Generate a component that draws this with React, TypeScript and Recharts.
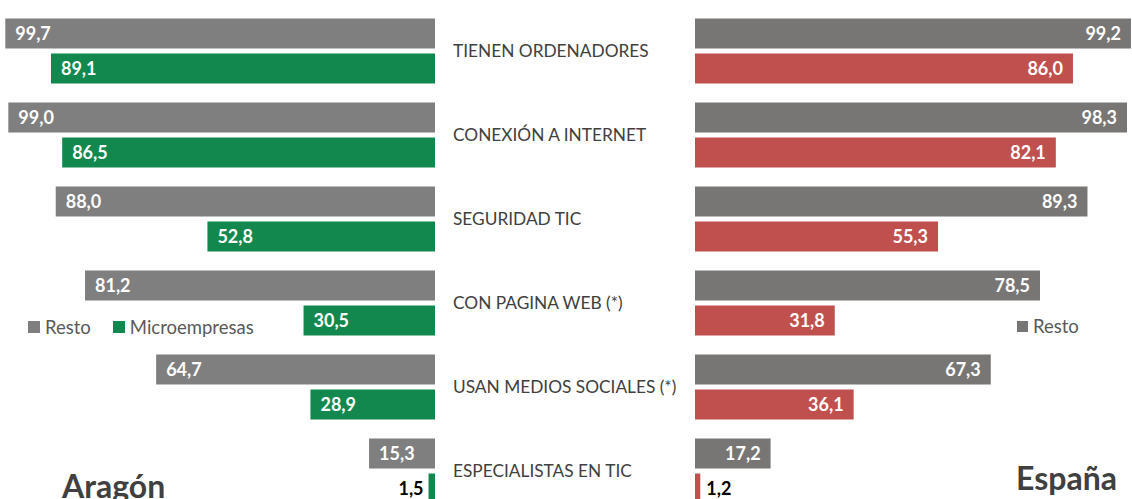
import React from 'react';
import { BarChart, Bar, XAxis, YAxis, LabelList, Legend } from 'recharts';

const categories = [
  'TIENEN ORDENADORES',
  'CONEXIÓN A INTERNET',
  'SEGURIDAD TIC',
  'CON PAGINA WEB (*)',
  'USAN MEDIOS SOCIALES (*)',
  'ESPECIALISTAS EN TIC',
];
const aragonResto = [99.7, 99.0, 88.0, 81.2, 64.7, 15.3];
const aragonMicro = [89.1, 86.5, 52.8, 30.5, 28.9, 1.5];
const espanaResto = [99.2, 98.3, 89.3, 78.5, 67.3, 17.2];
const espanaMicro = [86.0, 82.1, 55.3, 31.8, 36.1, 1.2];
const seriesNames = ['Resto', 'Microempresas'];
const titles = ['Aragón', 'España'];

const data = categories.map((cat, i) => ({
  cat,
  aRest: aragonResto[i],
  aMicro: aragonMicro[i],
  eRest: espanaResto[i],
  eMicro: espanaMicro[i],
}));

const FONT = 'Lato, "Open Sans", sans-serif';
const fmt = (v: number) => v.toFixed(1).replace('.', ',');

const leftLabel = (props: any) => {
  const { x, y, width, height, value } = props;
  const nx = Number(x), nw = Number(width), ny = Number(y), nh = Number(height);
  const left = Math.min(nx, nx + nw);
  const w = Math.abs(nw);
  const small = w < 40;
  return (
    <text
      x={small ? left - 5 : left + 10}
      y={ny + nh / 2}
      dy="0.36em"
      textAnchor={small ? 'end' : 'start'}
      fill={small ? '#000000' : '#ffffff'}
      fontFamily={FONT}
      fontWeight={700}
      fontSize={18}
    >
      {fmt(Number(value))}
    </text>
  );
};

const rightLabel = (props: any) => {
  const { x, y, width, height, value } = props;
  const nx = Number(x), nw = Number(width), ny = Number(y), nh = Number(height);
  const right = Math.max(nx, nx + nw);
  const w = Math.abs(nw);
  const small = w < 40;
  return (
    <text
      x={small ? right + 6 : right - 10}
      y={ny + nh / 2}
      dy="0.36em"
      textAnchor={small ? 'start' : 'end'}
      fill={small ? '#000000' : '#ffffff'}
      fontFamily={FONT}
      fontWeight={700}
      fontSize={18}
    >
      {fmt(Number(value))}
    </text>
  );
};

const CategoryTick = (props: any) => {
  const { y, payload } = props;
  return (
    <text
      x={0}
      y={y}
      dy="0.36em"
      textAnchor="start"
      fill="#404040"
      fontFamily={FONT}
      fontSize={17.3}
    >
      {payload.value}
    </text>
  );
};

const legendContent = (sq: number, gap: number) => (props: any) => {
  const { payload } = props;
  const items = (payload || [])
    .filter((e: any) => e.type !== 'none' && !(e.payload && e.payload.legendType === 'none'))
    .slice()
    .sort((a: any, b: any) => seriesNames.indexOf(a.value) - seriesNames.indexOf(b.value));
  return (
    <div style={{ display: 'flex', alignItems: 'center', fontFamily: FONT, fontSize: 18.5, color: '#595959', lineHeight: '20px', whiteSpace: 'nowrap' }}>
      {items.map((e: any, i: number) => (
        <div key={i} style={{ display: 'flex', alignItems: 'center', marginRight: gap }}>
          <span style={{ display: 'inline-block', width: sq, height: sq, background: e.color, marginRight: 5 }} />
          <span>{e.value}</span>
        </div>
      ))}
    </div>
  );
};

export default function App() {
  return (
    <div style={{ position: 'fixed', left: 0, top: 0, width: 1132, height: 499, overflow: 'hidden', background: '#ffffff' }}>
      <div style={{ position: 'absolute', left: 0, top: 0 }}>
        <BarChart
          layout="vertical"
          width={440}
          height={520}
          data={data}
          margin={{ top: 8.5, right: 5, bottom: 7.5, left: 4 }}
          barSize={30}
          barGap={5}
        >
          <XAxis type="number" domain={[0, 100]} reversed hide />
          <YAxis type="category" dataKey="cat" hide />
          <Legend
            layout="horizontal"
            verticalAlign="middle"
            align="center"
            content={legendContent(12, 22)}
            wrapperStyle={{ left: 28, top: 316.5, width: 300, height: 20 }}
          />
          <Bar dataKey="aRest" name={seriesNames[0]} fill="#7F7F7F" isAnimationActive={false}>
            <LabelList dataKey="aRest" content={leftLabel} />
          </Bar>
          <Bar dataKey="aMicro" name={seriesNames[1]} fill="#12884F" isAnimationActive={false}>
            <LabelList dataKey="aMicro" content={leftLabel} />
          </Bar>
        </BarChart>
      </div>
      <div style={{ position: 'absolute', left: 453, top: 0 }}>
        <BarChart
          layout="vertical"
          width={700}
          height={520}
          data={data}
          margin={{ top: 8.5, right: 18.5, bottom: 7.5, left: 0 }}
          barSize={30}
          barGap={5}
        >
          <XAxis type="number" domain={[0, 100]} hide />
          <YAxis type="category" dataKey="cat" width={242} axisLine={false} tickLine={false} tick={<CategoryTick />} />
          <Legend
            layout="horizontal"
            verticalAlign="middle"
            align="center"
            content={legendContent(11, 0)}
            wrapperStyle={{ left: 564, top: 316, width: 200, height: 20 }}
          />
          <Bar dataKey="eRest" name={seriesNames[0]} fill="#787674" isAnimationActive={false}>
            <LabelList dataKey="eRest" content={rightLabel} />
          </Bar>
          <Bar dataKey="eMicro" name={seriesNames[1]} fill="#C0504D" legendType="none" isAnimationActive={false}>
            <LabelList dataKey="eMicro" content={rightLabel} />
          </Bar>
        </BarChart>
      </div>
      <svg width={1132} height={499} style={{ position: 'absolute', left: 0, top: 0, pointerEvents: 'none' }}>
        <text x={62} y={498} fontFamily={FONT} fontWeight={700} fontSize={32} fill="#404040">{titles[0]}</text>
        <text x={1016} y={490} fontFamily={FONT} fontWeight={700} fontSize={32} fill="#404040">{titles[1]}</text>
      </svg>
    </div>
  );
}
